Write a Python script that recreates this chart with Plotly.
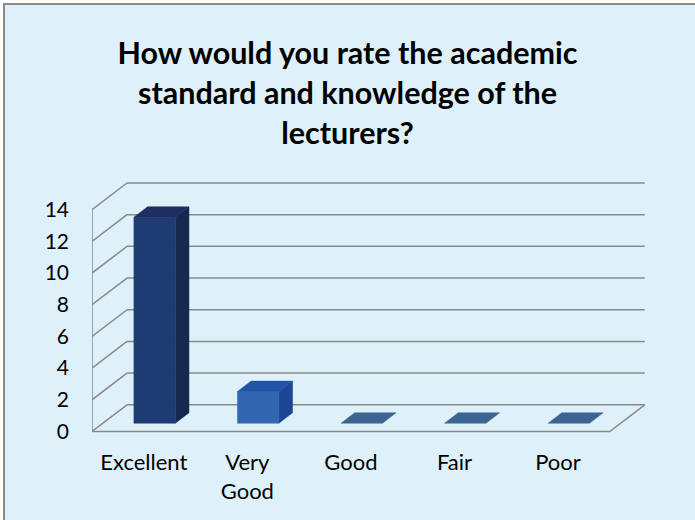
import plotly.graph_objects as go

# ---- data ----
categories = ["Excellent", "Very Good", "Good", "Fair", "Poor"]
tick_text = ["Excellent", "Very<br>Good", "Good", "Fair", "Poor"]
values = [13, 2, 0, 0, 0]
y_ticks = [0, 2, 4, 6, 8, 10, 12, 14]
title_text = "How would you rate the academic<br>standard and knowledge of the<br>lecturers?"

# ---- styles ----
front_colors = ["#1f3b73", "#3366b0", "#3a6590", "#3a6590", "#3a6590"]
side_colors = ["#172850", "#1c4693", "#3a6590", "#3a6590", "#3a6590"]
top_colors = ["#1c2f5e", "#2154a4", "#3a6590", "#3a6590", "#3a6590"]
grid_color = "#898989"
bg_color = "#def1fa"

# pseudo-3D depth offsets (in axis units)
DX = 0.338
DY = 1.685
D0, D1 = 0.31, 0.70
HALF_W = 0.2
X_LO, X_HI = -0.5, len(categories) - 0.5


def P(x, y, d):
    return x + d * DX, y + d * DY


fig = go.Figure()


def add_line(pts, color=grid_color, width=1.5):
    xs = [p[0] for p in pts]
    ys = [p[1] for p in pts]
    fig.add_trace(go.Scatter(x=xs, y=ys, mode="lines",
                             line=dict(color=color, width=width),
                             hoverinfo="skip", showlegend=False))


def add_poly(pts, color):
    xs = [p[0] for p in pts] + [pts[0][0]]
    ys = [p[1] for p in pts] + [pts[0][1]]
    fig.add_trace(go.Scatter(x=xs, y=ys, mode="lines", fill="toself",
                             fillcolor=color, line=dict(color=color, width=0.5),
                             hoverinfo="skip", showlegend=False))


# back wall gridlines + left wall diagonals
for v in y_ticks:
    add_line([P(X_LO, v, 1), P(X_HI, v, 1)])
    add_line([P(X_LO, v, 0), P(X_LO, v, 1)])

# front vertical axis
add_line([P(X_LO, 0, 0), P(X_LO, max(y_ticks), 0)])
# floor front edge and right edge
add_line([P(X_LO, 0, 0), P(X_HI, 0, 0), P(X_HI, 0, 1)])

# bars
for i, v in enumerate(values):
    x0, x1 = i - HALF_W, i + HALF_W
    if v > 0:
        add_poly([P(x1, 0, D0), P(x1, 0, D1), P(x1, v, D1), P(x1, v, D0)], side_colors[i])
        add_poly([P(x0, 0, D0), P(x1, 0, D0), P(x1, v, D0), P(x0, v, D0)], front_colors[i])
    add_poly([P(x0, v, D0), P(x1, v, D0), P(x1, v, D1), P(x0, v, D1)], top_colors[i])

L, R, T, B = 92, 49, 178, 79
W, H = 695 - L - R, 520 - T - B


def px_to_paper(px, py):
    return (px - L) / W, 1 - (py - T) / H


bx0, by0 = px_to_paper(4, 4)
bx1, by1 = px_to_paper(720, 540)

fig.update_layout(
    width=695, height=520,
    margin=dict(l=L, r=R, t=T, b=B),
    paper_bgcolor="white",
    plot_bgcolor="rgba(0,0,0,0)",
    title=dict(text="<b>" + title_text + "</b>", x=0.5, xref="container",
               xanchor="center", y=0.876, yref="container", yanchor="top",
               font=dict(family="Lato", size=30.5, color="black")),
    xaxis=dict(range=[X_LO, 4.85], showgrid=False, zeroline=False, showline=False,
               tickmode="array", tickvals=list(range(len(categories))), ticktext=tick_text,
               ticks="", tickfont=dict(family="Lato", size=22, color="black"),
               ticklabelstandoff=6, fixedrange=True),
    yaxis=dict(range=[-0.6, 16], showgrid=False, zeroline=False, showline=False,
               tickmode="array", tickvals=y_ticks, ticks="",
               tickfont=dict(family="Lato", size=21, color="black"),
               ticklabelstandoff=22, fixedrange=True),
    shapes=[dict(type="rect", xref="paper", yref="paper",
                 x0=bx0, y0=by1, x1=bx1, y1=by0,
                 fillcolor=bg_color, line=dict(color="#8a8a8a", width=2),
                 layer="below")],
    showlegend=False,
)

fig.write_html("out.html", config={"displayModeBar": False, "staticPlot": True},
               post_script="document.body.style.margin='0';document.body.style.overflow='hidden';")
